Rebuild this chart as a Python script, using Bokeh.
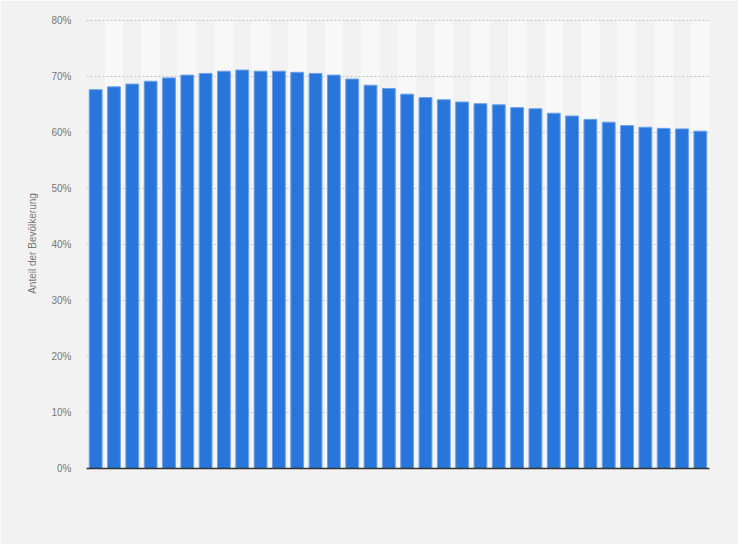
from bokeh.plotting import figure
from bokeh.models import FixedTicker, Range1d, CustomJSTickFormatter
from bokeh.embed import file_html
from bokeh.resources import INLINE

# Data (34 bars, no category labels shown in the reference)
positions = list(range(1, 35))
shares = [67.6, 68.1, 68.6, 69.1, 69.7, 70.2, 70.5, 70.9, 71.1, 70.9,
          70.9, 70.7, 70.5, 70.2, 69.5, 68.4, 67.8, 66.8, 66.2, 65.8,
          65.4, 65.1, 64.9, 64.4, 64.2, 63.4, 62.9, 62.3, 61.8, 61.2,
          60.9, 60.7, 60.6, 60.2]
y_ticks = [0, 10, 20, 30, 40, 50, 60, 70, 80]
y_label = "Anteil der Bevölkerung"

band_x = [x for x in positions if x % 2 == 0]
band_top = [80] * len(band_x)

BG = "#f2f2f2"
FONT = "Liberation Sans"

p = figure(width=738, height=544, output_backend="svg", toolbar_location=None,
           x_range=Range1d(0.5, 34.5), y_range=Range1d(0, 80.3),
           min_border_left=86, min_border_right=29, min_border_top=18,
           min_border_bottom=76)
p.background_fill_color = BG
p.border_fill_color = BG
p.outline_line_color = None

# alternating column bands
p.vbar(x=band_x, top=band_top, bottom=0, width=1.0, fill_color="#f8f8f8",
       line_color=None, level="image")

p.vbar(x=positions, top=shares, bottom=0, width=0.7, fill_color="#2876dc",
       line_color="#6ea2e8", line_width=1)

p.xgrid.visible = False
p.ygrid.ticker = FixedTicker(ticks=y_ticks)
p.ygrid.grid_line_color = "#c4c4c4"
p.ygrid.grid_line_dash = "2 2"
p.ygrid.grid_line_width = 1

yax = p.yaxis[0]
yax.ticker = FixedTicker(ticks=y_ticks)
yax.formatter = CustomJSTickFormatter(code="return tick + '%';")
yax.axis_line_color = None
yax.major_tick_line_color = None
yax.minor_tick_line_color = None
yax.major_tick_out = 0
yax.major_tick_in = 0
yax.minor_tick_out = 0
yax.minor_tick_in = 0
yax.major_label_standoff = 15
yax.major_label_text_font = FONT
yax.major_label_text_font_size = "10px"
yax.major_label_text_color = "#777777"
yax.axis_label = y_label
yax.axis_label_text_font = FONT
yax.axis_label_text_font_size = "10px"
yax.axis_label_text_font_style = "normal"
yax.axis_label_text_color = "#777777"
yax.axis_label_standoff = 10

xax = p.xaxis[0]
xax.ticker = FixedTicker(ticks=[])
xax.axis_line_color = "#333333"
xax.axis_line_width = 1.5
xax.major_tick_line_color = None
xax.minor_tick_line_color = None
xax.major_tick_out = 0
xax.minor_tick_out = 0
xax.major_label_text_font_size = "0px"

open("out.html", "w").write(file_html(p, INLINE))
